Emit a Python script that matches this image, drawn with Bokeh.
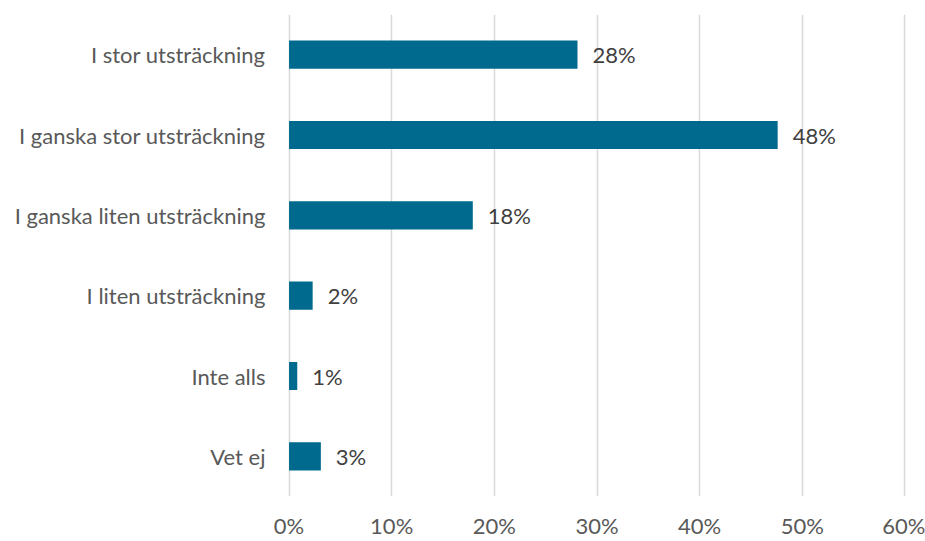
from bokeh.plotting import figure
from bokeh.models import ColumnDataSource, FactorRange, NumeralTickFormatter, FixedTicker
from bokeh.embed import file_html
from bokeh.resources import INLINE
from bokeh.core.properties import value

categories = ["I stor utsträckning", "I ganska stor utsträckning", "I ganska liten utsträckning",
              "I liten utsträckning", "Inte alls", "Vet ej"]
values = [0.281, 0.476, 0.179, 0.023, 0.008, 0.031]
labels = ["28%", "48%", "18%", "2%", "1%", "3%"]
x_ticks = [0, 0.1, 0.2, 0.3, 0.4, 0.5, 0.6]

FONT = "Lato"
FS = "22px"

src = ColumnDataSource(dict(cat=categories, val=values, lab=labels))

p = figure(width=925, height=541, output_backend="svg", toolbar_location=None,
           y_range=FactorRange(factors=list(reversed(categories)), range_padding=0),
           x_range=(-0.0015, 0.6015),
           min_border_left=287, min_border_right=19, min_border_top=14, min_border_bottom=43)
p.outline_line_color = None
p.background_fill_color = "white"

p.hbar(y="cat", right="val", left=0, height=0.35, source=src,
       fill_color="#006A8E", line_color=None)
p.text(x="val", y="cat", text="lab", source=src, x_offset=15,
       text_align="left", text_baseline="middle",
       text_font=value(FONT), text_font_size=FS, text_color="#404040")

p.xaxis.ticker = FixedTicker(ticks=x_ticks)
p.xaxis.formatter = NumeralTickFormatter(format="0%")
p.xaxis.axis_line_color = None
p.xaxis.major_tick_line_color = None
p.xaxis.minor_tick_line_color = None
p.xaxis.major_label_standoff = 9
p.xaxis.major_label_text_font = FONT
p.xaxis.major_label_text_font_size = FS
p.xaxis.major_label_text_color = "#595959"

p.yaxis.axis_line_color = None
p.yaxis.major_tick_line_color = None
p.yaxis.minor_tick_line_color = None
p.yaxis.major_label_standoff = 16
p.yaxis.major_label_text_font = FONT
p.yaxis.major_label_text_font_size = FS
p.yaxis.major_label_text_color = "#595959"

p.xgrid.grid_line_color = "#D9D9D9"
p.xgrid.grid_line_width = 1.5
p.ygrid.grid_line_color = None

open("out.html", "w").write(file_html(p, INLINE))
